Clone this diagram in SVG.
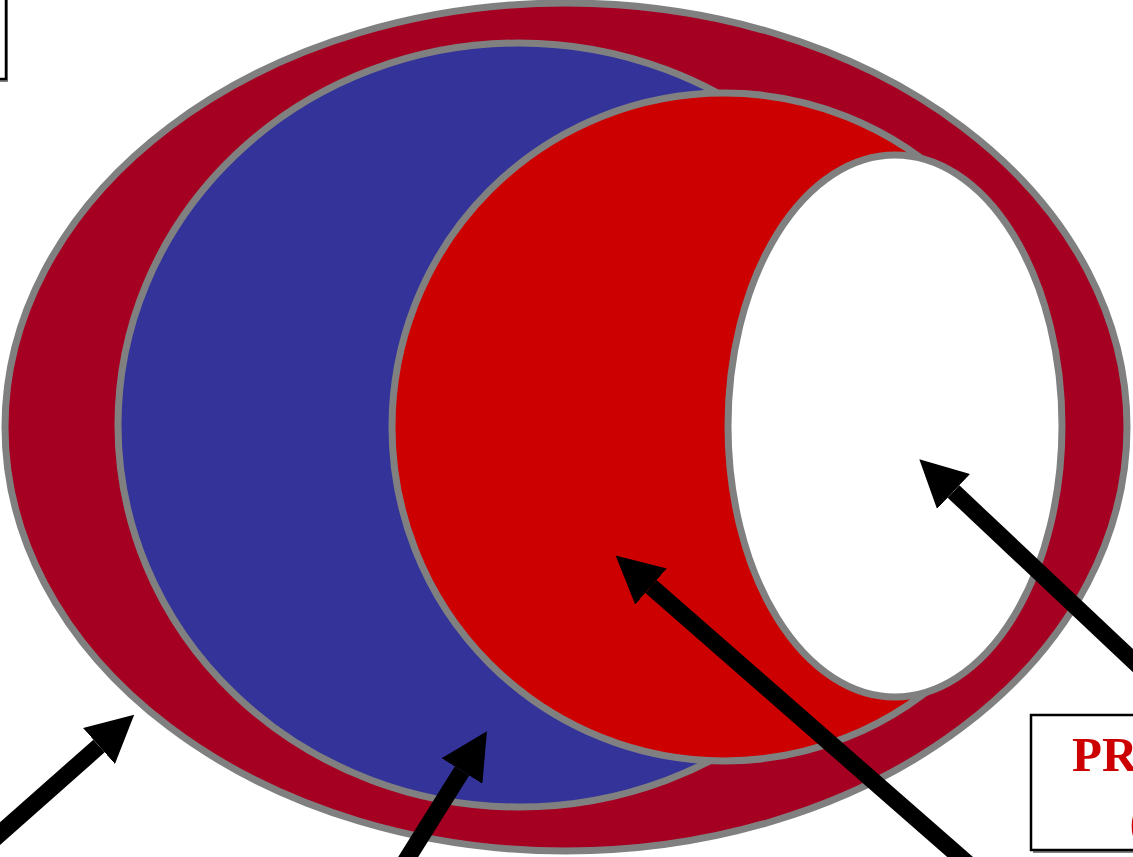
<svg xmlns="http://www.w3.org/2000/svg" width="1133" height="857" viewBox="0 0 1133 857">
<style>
.ell{stroke:#808080;stroke-width:7}
.shaft{stroke:#000;stroke-width:17;fill:none;stroke-linecap:butt}
.box{fill:#fff;stroke:#000;stroke-width:2.5}
.shadow{fill:#808080}
.lbl{font-family:"Liberation Serif","Times New Roman",serif;font-weight:bold;fill:#CC0000;font-size:49px}
</style>
<defs>
<marker id="ah" viewBox="0 0 47 48" refX="0" refY="24" markerWidth="47" markerHeight="48" markerUnits="userSpaceOnUse" orient="auto">
<path d="M0,0 L47,24 L0,48 Z" fill="#000"/>
</marker>
</defs>
<rect width="1133" height="857" fill="#fff"/>
<g id="outer"><ellipse class="ell" cx="566" cy="427" rx="561" ry="424" fill="#A50021"/></g>
<g id="blue"><ellipse class="ell" cx="519" cy="425" rx="401" ry="382" fill="#333399"/></g>
<g id="red"><ellipse class="ell" cx="724" cy="427" rx="332" ry="334" fill="#CC0000"/></g>
<g id="white"><ellipse class="ell" cx="895" cy="426" rx="167" ry="271" fill="#FFFFFF"/></g>
<g id="connectors">
<line class="shaft" x1="-15" y1="847" x2="99" y2="746" marker-end="url(#ah)"/>
<line class="shaft" x1="400" y1="870" x2="462" y2="771" marker-end="url(#ah)"/>
<line class="shaft" x1="975" y1="870" x2="651" y2="586.5" marker-end="url(#ah)"/>
<line class="shaft" x1="1145" y1="672" x2="953.5" y2="491.5" marker-end="url(#ah)"/>
</g>
<g id="box-topleft">
<rect class="shadow" x="-10" y="-10" width="18" height="92"/>
<rect class="box" x="-10" y="-10" width="16" height="89"/>
</g>
<g id="box-bottomright">
<rect class="shadow" x="1033" y="717" width="120" height="136"/>
<rect class="box" x="1031" y="715" width="120" height="135"/>
<text class="lbl" x="1072" y="771">PR</text>
<text class="lbl" x="1129.5" y="838">(</text>
</g>
</svg>
